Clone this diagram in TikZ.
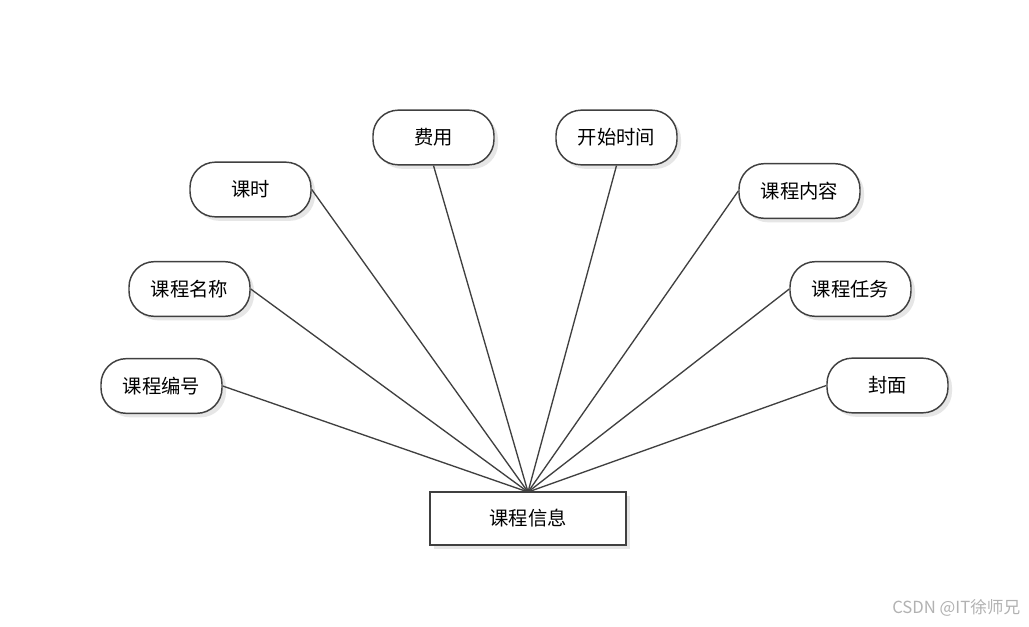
\documentclass[tikz,border=0pt]{standalone}
\usepackage{fontspec}
\setmainfont{Noto Sans CJK SC}
\newfontfamily\wmfont{Noto Sans CJK SC}
\usetikzlibrary{shadows}
\definecolor{edge}{HTML}{404040}
\definecolor{shad}{HTML}{E6E6E6}
\tikzset{
  attr/.style={draw=edge, line width=1.1pt, fill=white, rounded corners=19pt,
    minimum width=90.75pt, minimum height=41pt, inner sep=0pt,
    font=\fontsize{14.5pt}{17pt}\selectfont,
    drop shadow={shadow xshift=3pt, shadow yshift=-3pt, fill=shad, opacity=1}},
  entity/.style={draw=edge, line width=1.1pt, fill=white,
    minimum width=147pt, minimum height=39.75pt, inner sep=0pt,
    font=\fontsize{14.5pt}{17pt}\selectfont,
    drop shadow={shadow xshift=3pt, shadow yshift=-3pt, fill=shad, opacity=1}},
  link/.style={draw=edge, line width=1pt}
}
\begin{document}
\begin{tikzpicture}[x=0.75pt, y=-0.75pt]
\fill[white] (0,0) rectangle (1029,626);
\useasboundingbox (0,0) rectangle (1029,626);
\node[entity] (main) at (528,518.5) {课程信息};
\node[attr] (ks) at (250.5,189.5) {课时};
\node[attr] (mc) at (189.5,289) {课程名称};
\node[attr] (bh) at (161.5,386) {课程编号};
\node[attr] (fy) at (433.5,137.5) {费用};
\node[attr] (kssj) at (616.5,137.5) {开始时间};
\node[attr] (nr) at (799.5,191) {课程内容};
\node[attr] (rw) at (850.5,289) {课程任务};
\node[attr] (fm) at (887.5,385.5) {封面};
\coordinate (hub) at (528,492);
\draw[link] (ks.east) -- (hub);
\draw[link] (mc.east) -- (hub);
\draw[link] (bh.east) -- (hub);
\draw[link] (fy.south) -- (hub);
\draw[link] (kssj.south) -- (hub);
\draw[link] (nr.west) -- (hub);
\draw[link] (rw.west) -- (hub);
\draw[link] (fm.west) -- (hub);
\node[text=black!30, font=\wmfont\fontsize{12.5pt}{14pt}\selectfont, anchor=east] (wm) at (1025,608) {CSDN @IT徐师兄};
\end{tikzpicture}
\end{document}
